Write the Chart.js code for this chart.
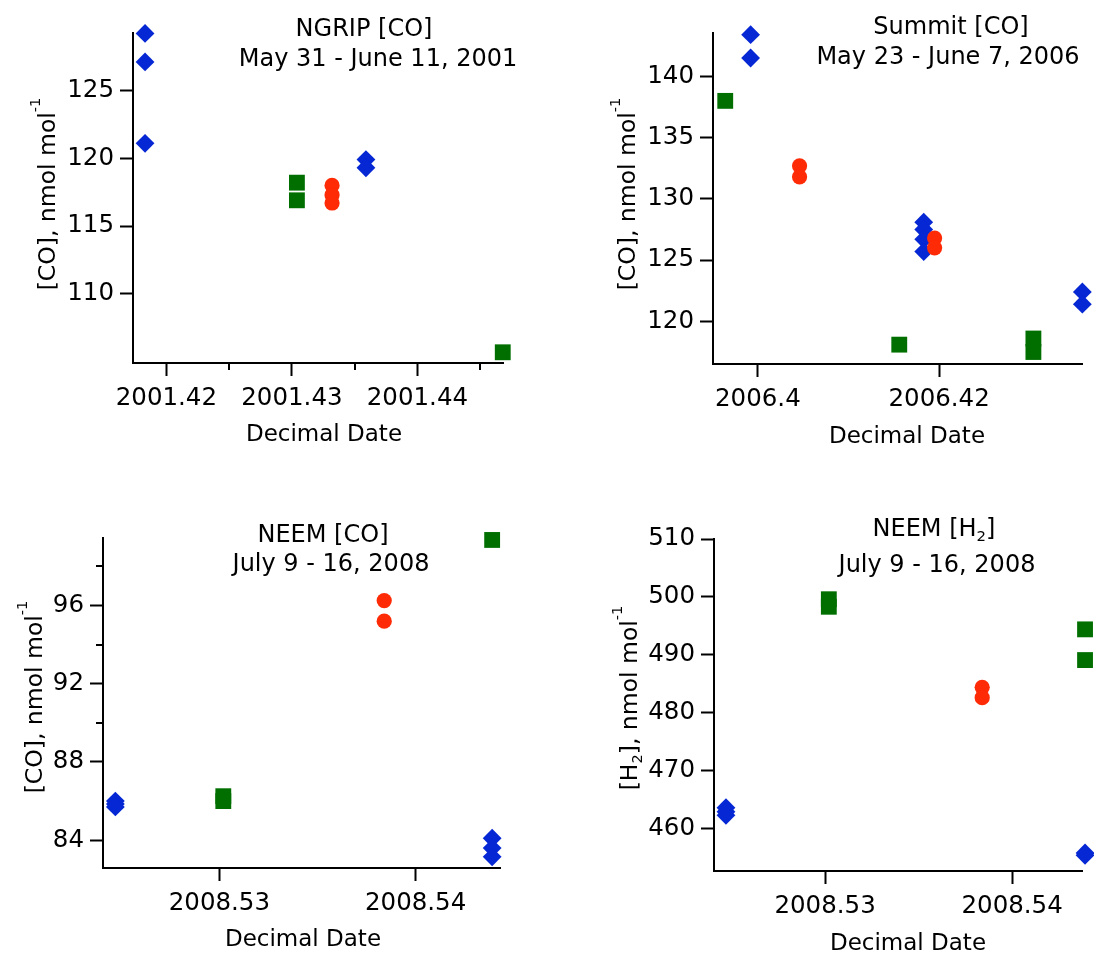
<!DOCTYPE html>
<html lang="en">
<head>
<meta charset="UTF-8" />
<title>Greenland CO and H2</title>
<script src="https://cdn.jsdelivr.net/npm/chart.js@4.4.1/dist/chart.umd.min.js"></script>
<style>
  body { margin: 0; background: #fff; }
  #wrap { position: relative; width: 1094px; height: 961px; overflow: hidden; background: #fff; }
  #wrap canvas { position: absolute; }
</style>
</head>
<body>
<div id="wrap">
  <canvas id="ngrip" width="547" height="480" style="left:0;top:0"></canvas>
  <canvas id="summit" width="547" height="480" style="left:547px;top:0"></canvas>
  <canvas id="neemCo" width="547" height="481" style="left:0;top:480px"></canvas>
  <canvas id="neemH2" width="547" height="481" style="left:547px;top:480px"></canvas>
</div>
<script>
// NGRIP [CO], May 31 - June 11, 2001
const ngripBlueX = [2001.4359, 2001.4359, 2001.4183, 2001.4183, 2001.4183];
const ngripBlueY = [119.9, 119.3, 129.2, 127.1, 121.1];
const ngripRedX = [2001.4332, 2001.4332, 2001.4332];
const ngripRedY = [118.0, 117.3, 116.7];
const ngripGreenX = [2001.4468, 2001.4304, 2001.4304];
const ngripGreenY = [105.7, 118.2, 116.9];
const ngripXTicks = [2001.42, 2001.43, 2001.44];
const ngripXMinor = [2001.425, 2001.435, 2001.445];
const ngripYTicks = [110, 115, 120, 125];

// Summit [CO], May 23 - June 7, 2006
const summitBlueX = [2006.4358, 2006.4358, 2006.3992, 2006.3992, 2006.4183, 2006.4183, 2006.4183, 2006.4183];
const summitBlueY = [122.4, 121.4, 143.4, 141.5, 128.1, 127.5, 126.7, 125.7];
const summitRedX = [2006.4195, 2006.4195, 2006.4046, 2006.4046];
const summitRedY = [126.8, 126.0, 132.7, 131.8];
const summitGreenX = [2006.4304, 2006.4304, 2006.3964, 2006.4156];
const summitGreenY = [118.6, 117.5, 138.0, 118.1];
const summitXTicks = [2006.4, 2006.42];
const summitYTicks = [120, 125, 130, 135, 140];

// NEEM [CO], July 9 - 16, 2008
const neemCoBlueX = [2008.5439, 2008.5439, 2008.5439, 2008.5247, 2008.5247, 2008.5247];
const neemCoBlueY = [84.1, 83.6, 83.15, 86.0, 85.85, 85.7];
const neemCoRedX = [2008.5384, 2008.5384];
const neemCoRedY = [96.25, 95.2];
const neemCoGreenX = [2008.5439, 2008.5302, 2008.5302];
const neemCoGreenY = [99.35, 86.25, 86.0];
const neemCoYTicks = [84, 88, 92, 96];
const neemCoYMinor = [90, 94, 98];

// NEEM [H2], July 9 - 16, 2008
const neemH2BlueX = [2008.5439, 2008.5439, 2008.5247, 2008.5247, 2008.5247];
const neemH2BlueY = [455.8, 455.4, 463.6, 462.9, 462.3];
const neemH2RedX = [2008.5384, 2008.5384];
const neemH2RedY = [484.4, 482.6];
const neemH2GreenX = [2008.5439, 2008.5439, 2008.5302, 2008.5302];
const neemH2GreenY = [494.4, 489.1, 499.6, 498.3];
const neemH2YTicks = [460, 470, 480, 490, 500, 510];

const neemXTicks = [2008.53, 2008.54];

const FONT = "'DejaVu Sans', sans-serif";
const BLUE = '#0527d4';
const RED = '#ff2b06';
const GREEN = '#006f00';
const TICK_SIZE = 24.5;

const pts = (xs, ys) => xs.map((x, i) => ({ x: x, y: ys[i] }));

// draws text with optional sup/sub parts, x/y = centre of the cap height
function drawRich(ctx, parts, x, y, size, rot) {
  ctx.save();
  ctx.translate(x, y);
  if (rot) ctx.rotate(-Math.PI / 2);
  const small = size * 0.62;
  const fontFor = p => ((p.sup || p.sub) ? small : size) + 'px ' + FONT;
  let total = 0;
  const widths = parts.map(p => {
    ctx.font = fontFor(p);
    const w = ctx.measureText(p.t).width;
    total += w;
    return w;
  });
  const base = size * 0.365;
  let cx = -total / 2;
  ctx.fillStyle = '#000';
  ctx.textAlign = 'left';
  ctx.textBaseline = 'alphabetic';
  parts.forEach((p, i) => {
    ctx.font = fontFor(p);
    let dy = base;
    if (p.sup) dy = base - size * 0.62;
    if (p.sub) dy = base + size * 0.22;
    ctx.fillText(p.t, cx, dy);
    cx += widths[i];
  });
  ctx.restore();
}

const annotate = {
  id: 'annotate',
  afterDraw(chart, args, o) {
    const ctx = chart.ctx;
    const ca = chart.chartArea;
    ctx.save();
    ctx.strokeStyle = '#000';
    ctx.lineWidth = 2;
    (o.minorX || []).forEach(v => {
      const px = Math.round(chart.scales.x.getPixelForValue(v));
      ctx.beginPath();
      ctx.moveTo(px, ca.bottom);
      ctx.lineTo(px, ca.bottom + 7);
      ctx.stroke();
    });
    (o.minorY || []).forEach(v => {
      const py = Math.round(chart.scales.y.getPixelForValue(v));
      ctx.beginPath();
      ctx.moveTo(ca.left, py);
      ctx.lineTo(ca.left - 7, py);
      ctx.stroke();
    });
    ctx.restore();
    (o.texts || []).forEach(t => drawRich(ctx, t.parts, t.x, t.y, t.size || 24, t.rot));
  }
};

function axis(pos, min, max, ticks, fitSize) {
  return {
    type: 'linear',
    position: pos,
    min: min,
    max: max,
    afterBuildTicks: s => { s.ticks = ticks.map(v => ({ value: v })); },
    afterFit: s => { if (pos === 'left') s.width = fitSize; else s.height = fitSize; },
    border: { display: true, color: '#000', width: 2 },
    grid: {
      display: true, drawOnChartArea: false, drawTicks: true,
      tickLength: 13, tickWidth: 2, tickColor: '#000', color: '#000'
    },
    ticks: {
      color: '#000',
      font: { family: FONT, size: TICK_SIZE },
      padding: pos === 'left' ? 6 : 8,
      maxRotation: 0,
      autoSkip: false,
      callback: v => String(v)
    }
  };
}

function panel(id, p) {
  const canvas = document.getElementById(id);
  new Chart(canvas, {
    type: 'scatter',
    data: {
      datasets: [
        { data: pts(p.redX, p.redY), pointStyle: 'circle', pointRadius: 7.6, pointHoverRadius: 7.6,
          pointBackgroundColor: RED, pointBorderWidth: 0, clip: false },
        { data: pts(p.blueX, p.blueY), pointStyle: 'rectRot', pointRadius: 9.4, pointHoverRadius: 9.4,
          pointBackgroundColor: BLUE, pointBorderWidth: 0, clip: false },
        { data: pts(p.greenX, p.greenY), pointStyle: 'rect', pointRadius: 11.2, pointHoverRadius: 11.2,
          pointBackgroundColor: GREEN, pointBorderWidth: 0, clip: false }
      ]
    },
    options: {
      responsive: false,
      animation: false,
      devicePixelRatio: 1,
      events: [],
      layout: { padding: { top: p.area.top, right: canvas.width - p.area.right, left: 0, bottom: 0 } },
      scales: {
        x: axis('bottom', p.xMin, p.xMax, p.xTicks, canvas.height - p.area.bottom),
        y: axis('left', p.yMin, p.yMax, p.yTicks, p.area.left)
      },
      plugins: {
        legend: { display: false },
        tooltip: { enabled: false },
        annotate: { minorX: p.minorX, minorY: p.minorY, texts: p.texts }
      }
    },
    plugins: [annotate]
  });
}

panel('ngrip', {
  blueX: ngripBlueX, blueY: ngripBlueY, redX: ngripRedX, redY: ngripRedY,
  greenX: ngripGreenX, greenY: ngripGreenY,
  xMin: 2001.41734, xMax: 2001.44682, yMin: 104.91, yMax: 129.23,
  xTicks: ngripXTicks, yTicks: ngripYTicks, minorX: ngripXMinor,
  area: { left: 133, top: 33, right: 503, bottom: 363 },
  texts: [
    { parts: [{ t: 'NGRIP [CO]' }], x: 364, y: 27 },
    { parts: [{ t: 'May 31 - June 11, 2001' }], x: 378, y: 57 },
    { parts: [{ t: 'Decimal Date' }], x: 324, y: 433, size: 23 },
    { parts: [{ t: '[CO], nmol mol' }, { t: '-1', sup: true }], x: 46, y: 194, size: 23.5, rot: true }
  ]
});

panel('summit', {
  blueX: summitBlueX, blueY: summitBlueY, redX: summitRedX, redY: summitRedY,
  greenX: summitGreenX, greenY: summitGreenY,
  xMin: 2006.39505, xMax: 2006.43585, yMin: 116.52, yMax: 143.54,
  xTicks: summitXTicks, yTicks: summitYTicks,
  area: { left: 166, top: 33, right: 540, bottom: 364 },
  texts: [
    { parts: [{ t: 'Summit [CO]' }], x: 404, y: 25 },
    { parts: [{ t: 'May 23 - June 7, 2006' }], x: 401, y: 55 },
    { parts: [{ t: 'Decimal Date' }], x: 360, y: 435, size: 23 },
    { parts: [{ t: '[CO], nmol mol' }, { t: '-1', sup: true }], x: 79, y: 194, size: 23.5, rot: true }
  ]
});

panel('neemCo', {
  blueX: neemCoBlueX, blueY: neemCoBlueY, redX: neemCoRedX, redY: neemCoRedY,
  greenX: neemCoGreenX, greenY: neemCoGreenY,
  xMin: 2008.52407, xMax: 2008.5443, yMin: 82.58, yMax: 99.45,
  xTicks: neemXTicks, yTicks: neemCoYTicks, minorY: neemCoYMinor,
  area: { left: 103, top: 58, right: 500, bottom: 388 },
  texts: [
    { parts: [{ t: 'NEEM [CO]' }], x: 323, y: 53 },
    { parts: [{ t: 'July 9 - 16, 2008' }], x: 331, y: 82 },
    { parts: [{ t: 'Decimal Date' }], x: 303, y: 458, size: 23 },
    { parts: [{ t: '[CO], nmol mol' }, { t: '-1', sup: true }], x: 33, y: 217, size: 23.5, rot: true }
  ]
});

panel('neemH2', {
  blueX: neemH2BlueX, blueY: neemH2BlueY, redX: neemH2RedX, redY: neemH2RedY,
  greenX: neemH2GreenX, greenY: neemH2GreenY,
  xMin: 2008.52406, xMax: 2008.54378, yMin: 452.68, yMax: 510,
  xTicks: neemXTicks, yTicks: neemH2YTicks,
  area: { left: 167, top: 59, right: 538, bottom: 391 },
  texts: [
    { parts: [{ t: 'NEEM [H' }, { t: '2', sub: true }, { t: ']' }], x: 387, y: 47 },
    { parts: [{ t: 'July 9 - 16, 2008' }], x: 390, y: 83 },
    { parts: [{ t: 'Decimal Date' }], x: 361, y: 462, size: 23 },
    { parts: [{ t: '[H' }, { t: '2', sub: true }, { t: '], nmol mol' }, { t: '-1', sup: true }], x: 81, y: 218, size: 23.5, rot: true }
  ]
});
</script>
</body>
</html>
